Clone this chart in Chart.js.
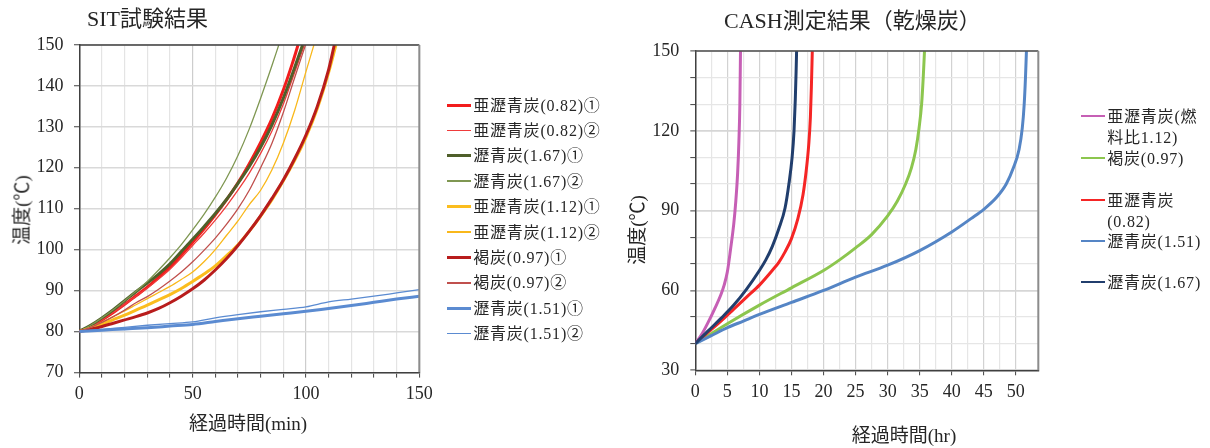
<!DOCTYPE html>
<html lang="ja">
<head>
<meta charset="utf-8">
<title>SIT試験結果 / CASH測定結果</title>
<script src="https://cdn.jsdelivr.net/npm/chart.js"></script>
<style>
  html, body { margin: 0; padding: 0; background: #fff; }
  #wrap { position: relative; width: 1210px; height: 448px; overflow: hidden; background: #fff;
          font-family: "Liberation Serif", "Noto Sans CJK JP", serif; color: #262626; }
  canvas { position: absolute; top: 0; }
  .txt { position: absolute; white-space: nowrap; }
  .vtxt { position: absolute; white-space: nowrap; transform: translate(-50%, -50%) rotate(-90deg); }
  .sample { position: absolute; }
  .leg { position: absolute; font-size: 16px; line-height: 21px; letter-spacing: 0.8px; color: #262626; }
</style>
</head>
<body>
<div id="wrap">
  <canvas id="sit" width="440" height="448" style="left:0"></canvas>
  <canvas id="cash" width="610" height="448" style="left:600px"></canvas>
  <div class="txt" id="sitTitle" style="left:87px; top:6px; font-size:22px; line-height:26px;"></div>
  <div class="txt" id="cashTitle" style="left:724px; top:8px; font-size:22px; line-height:26px;"></div>
  <div class="vtxt" id="sitYTitle" style="left:20px; top:210px; font-size:19px;"></div>
  <div class="txt" id="sitXTitle" style="left:248px; top:421px; font-size:19px; transform:translate(-50%,-50%);"></div>
  <div class="vtxt" id="cashYTitle" style="left:635px; top:230px; font-size:19px;"></div>
  <div class="txt" id="cashXTitle" style="left:904px; top:433px; font-size:19px; transform:translate(-50%,-50%);"></div>
  <div id="sitLegend"></div>
  <div id="cashLegend"></div>
</div>
<script>
// ---- SIT test: elapsed time (min) vs temperature (°C) ----
const sitLabels = [
  '亜瀝青炭(0.82)①', '亜瀝青炭(0.82)②', '瀝青炭(1.67)①', '瀝青炭(1.67)②',
  '亜瀝青炭(1.12)①', '亜瀝青炭(1.12)②', '褐炭(0.97)①', '褐炭(0.97)②',
  '瀝青炭(1.51)①', '瀝青炭(1.51)②'
];
const sitSub082a = [[0,80],[5,81.2],[10,82.8],[15,84.6],[20,86.6],[25,88.7],[30,90.8],[35,93.2],[40,95.8],[45,98.7],[50,101.8],[55,105],[60,108.5],[65,112.2],[70,116.3],[75,121],[80,126.2],[85,132],[90,139],[94,145.5],[96.5,150]];
const sitSub082b = [[0,80],[5,81.2],[10,82.8],[15,84.6],[20,86.6],[25,88.6],[30,90.6],[35,92.8],[40,95.2],[45,98],[50,101],[55,104],[60,107.2],[65,110.7],[70,114.5],[75,118.7],[80,123.5],[85,129],[90,135.5],[95,143.3],[99.3,150]];
const sitBit167a = [[0,80],[5,81.5],[10,83.3],[15,85.3],[20,87.5],[25,89.7],[30,91.8],[35,94],[40,96.5],[45,99.5],[50,102.5],[55,105.6],[60,108.8],[65,112.3],[70,116.2],[75,120.3],[80,125],[85,130.5],[90,137],[95,144.5],[98.5,150]];
const sitBit167b = [[0,80],[5,81.5],[10,83.3],[15,85.3],[20,87.5],[25,89.8],[30,92.2],[35,95],[40,98],[45,101.2],[50,104.8],[55,108.6],[60,112.8],[65,117.5],[70,123],[75,129.5],[80,137],[85,145],[88,150]];
const sitSub112a = [[0,80],[5,80.8],[10,81.8],[15,82.9],[20,84],[25,85.2],[30,86.4],[35,87.7],[40,89],[45,90.5],[50,92.2],[55,94],[60,96],[65,98.5],[70,101.2],[75,104.5],[80,108.2],[85,112.2],[90,116.8],[95,121.8],[100,127.5],[105,134.5],[110,143.3],[113.2,150]];
const sitSub112b = [[0,80],[5,81],[10,82.2],[15,83.6],[20,85],[25,86.5],[30,88],[35,89.5],[40,91],[45,92.7],[50,94.5],[55,97],[60,100],[65,103.5],[70,107],[75,111],[80,114.5],[85,119.5],[90,126],[95,134],[100,143.5],[103.5,150]];
const sitLig097a = [[0,80],[5,80.5],[10,81.2],[15,82],[20,82.8],[25,83.6],[30,84.5],[35,85.6],[40,87],[45,88.6],[50,90.4],[55,92.5],[60,95],[65,97.8],[70,101],[75,104.5],[80,108.3],[85,112.5],[90,117],[95,122.2],[100,128],[105,135],[110,144],[112.5,150]];
const sitLig097b = [[0,80],[5,81],[10,82.2],[15,83.6],[20,85.2],[25,87],[30,88.5],[35,90.3],[40,92.3],[45,94.5],[50,97],[55,99.8],[60,102.8],[65,106.2],[70,110],[75,114.5],[80,120],[85,126],[90,133.5],[95,142],[99.8,150]];
const sitBit151a = [[0,80],[10,80.3],[20,80.6],[30,80.9],[40,81.3],[50,81.7],[60,82.4],[70,83.1],[80,83.7],[90,84.3],[100,84.9],[110,85.6],[120,86.3],[130,87.1],[140,87.9],[150,88.6]];
const sitBit151b = [[0,80],[10,80.5],[20,81],[30,81.5],[40,81.9],[50,82.3],[60,83.3],[70,84.1],[80,84.8],[90,85.4],[100,86],[110,87.2],[120,87.9],[130,88.6],[140,89.4],[150,90.2]];
const sitSeries = [sitSub082a, sitSub082b, sitBit167a, sitBit167b, sitSub112a, sitSub112b, sitLig097a, sitLig097b, sitBit151a, sitBit151b];
const sitColors = ['#f21c1c', '#ef3b3b', '#4f5f2a', '#7f9752', '#fbbd1e', '#f9b81b', '#b81c1c', '#c0504d', '#5b8bd1', '#5b8bd1'];
const sitWidths = [3, 1.3, 3, 1.3, 3, 1.3, 3, 1.3, 3, 1.3];
const sitXTicks = [0, 50, 100, 150];

// ---- CASH measurement (dried coal): elapsed time (hr) vs temperature (°C) ----
const cashLabels = ['亜瀝青炭(燃料比1.12)', '褐炭(0.97)', '亜瀝青炭(0.82)', '瀝青炭(1.51)', '瀝青炭(1.67)'];
const cashSub112 = [[0,40],[1,43.5],[2,48],[3,53],[4,58.5],[4.5,62],[5,67],[5.5,75.5],[6,85],[6.3,93],[6.6,104],[6.8,116],[6.95,130],[7.05,150]];
const cashLig097 = [[0,40],[5,47.5],[10,54.5],[15,61],[20,67.5],[22.5,71.5],[25,76],[27.5,81],[30,88],[31.5,93.5],[32.8,100],[33.7,106],[34.4,113],[34.9,121],[35.3,130],[35.55,140],[35.75,150]];
const cashSub082 = [[0,40],[2,44.3],[4,48.5],[6,53],[8,57.5],[10,62],[12,67.5],[13,70.5],[14,74.5],[15,79.5],[16,87],[16.8,96],[17.3,105],[17.7,115],[17.95,125],[18.1,136],[18.25,150]];
const cashBit151 = [[0,40],[2.5,43],[5,46],[7.5,48.5],[10,51],[15,55.5],[20,60],[25,65],[30,69.5],[35,75],[40,82],[43,87],[45,90.5],[47,95],[48.5,100],[49.6,106],[50.5,113],[51,121],[51.3,130],[51.5,140],[51.65,150]];
const cashBit167 = [[0,40],[2,44.8],[4,49.5],[6,54.5],[8,60.5],[10,67.5],[11,71.5],[12,76.5],[13,83],[14,91],[14.6,100],[15.1,110],[15.4,120],[15.6,132],[15.72,142],[15.8,150]];
const cashSeries = [cashSub112, cashLig097, cashSub082, cashBit151, cashBit167];
const cashColors = ['#c65fb5', '#8cc64e', '#f52525', '#5585c5', '#213e6d'];

const FONT = '"Liberation Serif", "Noto Sans CJK JP", serif';
const INK = '#262626';
const AXIS = '#404040';

// draws the top and right edges of the plot frame
const framePlugin = {
  id: 'frame',
  afterDraw(chart, args, opts) {
    const { ctx, chartArea: { left, top, right, bottom } } = chart;
    ctx.save();
    ctx.lineWidth = 1.5;
    ctx.strokeStyle = opts.top;
    ctx.beginPath(); ctx.moveTo(left, top); ctx.lineTo(right, top); ctx.stroke();
    ctx.lineWidth = 2;
    ctx.strokeStyle = opts.right;
    ctx.beginPath(); ctx.moveTo(right, top); ctx.lineTo(right, bottom); ctx.stroke();
    ctx.restore();
  }
};

function toPoints(pairs) { return pairs.map(p => ({ x: p[0], y: p[1] })); }

function lineDatasets(series, labels, colors, widths) {
  const n = series.length;
  return series.map((s, i) => ({
    label: labels[i],
    data: toPoints(s),
    borderColor: colors[i],
    backgroundColor: colors[i],
    borderWidth: widths[i],
    pointRadius: 0,
    fill: false,
    cubicInterpolationMode: 'monotone',
    order: n - i
  }));
}

// ---- left chart ----
new Chart(document.getElementById('sit'), {
  type: 'line',
  data: { datasets: lineDatasets(sitSeries, sitLabels, sitColors, sitWidths) },
  plugins: [framePlugin],
  options: {
    responsive: false,
    animation: false,
    events: [],
    layout: { padding: { left: 0, top: 45, right: 20.7, bottom: 0 } },
    plugins: {
      legend: { display: false },
      tooltip: { enabled: false },
      frame: { top: '#404040', right: '#8c8c8c' }
    },
    scales: {
      x: {
        type: 'linear', min: 0, max: 150,
        afterFit: s => { s.height = 75.7; },
        ticks: {
          stepSize: 10, autoSkip: false, maxRotation: 0, padding: 6,
          color: INK, font: { family: FONT, size: 18 },
          callback: v => sitXTicks.includes(v) ? String(v) : ''
        },
        grid: {
          color: c => (c.tick && c.tick.value % 50 === 0) ? '#cdcdcd' : '#e4e4e4',
          lineWidth: 1.2, tickLength: 5.3, tickColor: AXIS, tickWidth: 1
        },
        border: { color: AXIS, width: 1.5 }
      },
      y: {
        type: 'linear', min: 70, max: 150,
        afterFit: s => { s.width = 79.3; },
        ticks: { stepSize: 10, padding: 10.5, color: INK, font: { family: FONT, size: 18 } },
        grid: { color: '#d9d9d9', lineWidth: 1.5, tickLength: 5.3, tickColor: AXIS, tickWidth: 1 },
        border: { color: AXIS, width: 1.5 }
      }
    }
  }
});

// ---- right chart ----
new Chart(document.getElementById('cash'), {
  type: 'line',
  data: { datasets: lineDatasets(cashSeries, cashLabels, cashColors, cashSeries.map(() => 3)) },
  plugins: [framePlugin],
  options: {
    responsive: false,
    animation: false,
    events: [],
    layout: { padding: { left: 0, top: 51, right: 171.7, bottom: 0 } },
    plugins: {
      legend: { display: false },
      tooltip: { enabled: false },
      frame: { top: '#505050', right: '#8c8c8c' }
    },
    scales: {
      x: {
        type: 'linear', min: 0, max: 53.5,
        afterFit: s => { s.height = 77.7; },
        ticks: {
          stepSize: 2.5, autoSkip: false, maxRotation: 0, padding: 6,
          color: INK, font: { family: FONT, size: 18 },
          callback: v => (v % 5 === 0) ? String(v) : ''
        },
        grid: {
          color: c => (c.tick && c.tick.value % 5 === 0) ? '#d2d2d2' : '#e6e6e6',
          lineWidth: 1.2, tickLength: 5, tickWidth: 1,
          tickColor: c => (c.tick && c.tick.value % 5 === 0) ? AXIS : 'rgba(0,0,0,0)'
        },
        border: { color: AXIS, width: 1.5 }
      },
      y: {
        type: 'linear', min: 30, max: 150,
        afterFit: s => { s.width = 95.3; },
        ticks: {
          stepSize: 10, padding: 11, color: INK, font: { family: FONT, size: 18 },
          callback: v => (v % 30 === 0) ? String(v) : ''
        },
        grid: {
          color: c => (c.tick && c.tick.value % 30 === 0) ? '#d6d6d6' : '#e6e6e6',
          lineWidth: c => (c.tick && c.tick.value % 30 === 0) ? 1.8 : 1.2,
          tickLength: 5, tickColor: AXIS, tickWidth: 1
        },
        border: { color: AXIS, width: 1.5 }
      }
    }
  }
});

// ---- titles ----
document.getElementById('sitTitle').textContent = 'SIT試験結果';
document.getElementById('cashTitle').textContent = 'CASH測定結果（乾燥炭）';
document.getElementById('sitYTitle').textContent = '温度(℃)';
document.getElementById('sitXTitle').textContent = '経過時間(min)';
document.getElementById('cashYTitle').textContent = '温度(℃)';
document.getElementById('cashXTitle').textContent = '経過時間(hr)';

// ---- legends ----
function addLegendItem(host, x, y, color, width, text, textWidth) {
  const s = document.createElement('div');
  s.className = 'sample';
  s.style.left = x + 'px';
  s.style.top = (y - width / 2) + 'px';
  s.style.width = '24.5px';
  s.style.height = width + 'px';
  s.style.background = color;
  host.appendChild(s);
  const t = document.createElement('div');
  t.className = 'leg';
  t.style.left = (x + 26.5) + 'px';
  t.style.top = (y - 10.5) + 'px';
  if (textWidth) { t.style.width = textWidth + 'px'; t.style.whiteSpace = 'normal'; }
  else { t.style.whiteSpace = 'nowrap'; }
  t.textContent = text;
  host.appendChild(t);
}

const sitLegendHost = document.getElementById('sitLegend');
sitLabels.forEach((lab, i) => {
  addLegendItem(sitLegendHost, 446.7, 105 + 25.4 * i, sitColors[i], sitWidths[i] === 3 ? 3 : 1.5, lab);
});

const cashLegendHost = document.getElementById('cashLegend');
const cashRows = [116, 158, 200, 241, 282];
cashLabels.forEach((lab, i) => {
  addLegendItem(cashLegendHost, 1080.7, cashRows[i], cashColors[i], 2.5, lab, 104);
});
</script>
</body>
</html>
